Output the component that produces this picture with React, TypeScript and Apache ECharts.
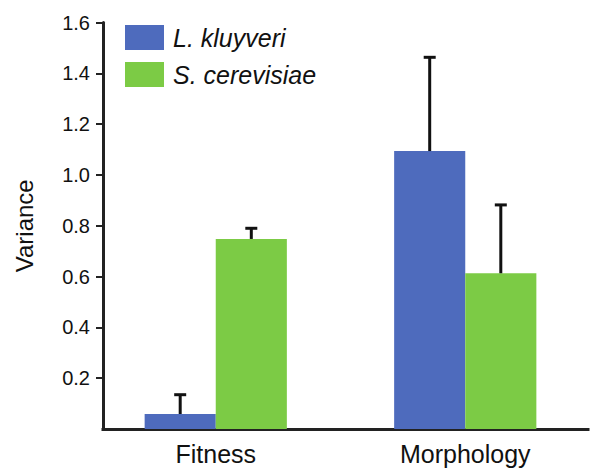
import React, { useEffect, useRef } from "react";
import * as echarts from "echarts";

const categories = ["Fitness", "Morphology"];
const seriesNames = ["L. kluyveri", "S. cerevisiae"];
const kluyveriMean = [0.059, 1.094];
const kluyveriUpper = [0.135, 1.463];
const cerevisiaeMean = [0.748, 0.613];
const cerevisiaeUpper = [0.79, 0.882];
const yTicks = [0.2, 0.4, 0.6, 0.8, 1.0, 1.2, 1.4, 1.6];

const BLUE = "#4E6BBD";
const GREEN = "#7CCB45";
const FONT = "Liberation Sans, Arial, sans-serif";
const CAT_GAP = 0.43;

function errorSeries(means: number[], uppers: number[], side: number) {
  return {
    type: "custom",
    xAxisIndex: 1,
    yAxisIndex: 1,
    z: 5,
    silent: true,
    data: means.map((m, i) => [i, m, uppers[i]]),
    encode: { x: 0, y: [1, 2] },
    renderItem: (params: any, api: any) => {
      const cat = api.value(0);
      const base = api.coord([cat, api.value(1)]);
      const top = api.coord([cat, api.value(2)]);
      const bandW = api.size([1, 0])[0];
      const barW = (bandW * (1 - CAT_GAP)) / 2;
      const x = base[0] + (side * barW) / 2;
      const style = { stroke: "#111", lineWidth: 3 };
      return {
        type: "group",
        children: [
          { type: "line", shape: { x1: x, y1: base[1], x2: x, y2: top[1] }, style },
          { type: "line", shape: { x1: x - 6, y1: top[1], x2: x + 6, y2: top[1] }, style },
        ],
      };
    },
  };
}

export default function App() {
  const ref = useRef<HTMLDivElement>(null);
  useEffect(() => {
    if (!ref.current) return;
    const chart = echarts.init(ref.current, undefined, { renderer: "svg" });
    const top = 22.5;
    const bottom = 41;
    chart.setOption({
      animation: false,
      backgroundColor: "#fff",
      textStyle: { fontFamily: FONT },
      legend: {
        data: seriesNames,
        orient: "vertical",
        left: 125,
        top: 25,
        itemWidth: 39,
        itemHeight: 25,
        itemGap: 12,
        icon: "rect",
        padding: 0,
        textStyle: { fontSize: 25, fontStyle: "italic", color: "#111", fontFamily: FONT, padding: [0, 0, 0, 4] },
      },
      grid: [
        { left: 103, right: 2, top, bottom },
        { left: 91, width: 506, top, bottom },
      ],
      xAxis: [
        {
          gridIndex: 0,
          type: "value",
          min: 0,
          max: 1,
          axisLine: { show: true, lineStyle: { color: "#222", width: 3, cap: "square" } },
          axisTick: { show: false },
          axisLabel: { show: false },
          splitLine: { show: false },
        },
        {
          gridIndex: 1,
          type: "category",
          data: categories,
          axisLine: { show: false },
          axisTick: { show: false },
          axisLabel: { fontSize: 25, color: "#111", margin: 12, fontFamily: FONT },
        },
      ],
      yAxis: [
        {
          gridIndex: 0,
          type: "value",
          min: 0,
          max: 1.6,
          name: "Variance",
          nameLocation: "middle",
          nameGap: 67,
          nameTextStyle: { fontSize: 24, color: "#111", fontFamily: FONT },
          axisLine: { show: true, lineStyle: { color: "#222", width: 3 } },
          axisTick: { show: true, length: 7, customValues: yTicks, lineStyle: { color: "#222", width: 2 } },
          axisLabel: {
            customValues: yTicks,
            fontSize: 20,
            color: "#111",
            margin: 13,
            fontFamily: FONT,
            formatter: (v: number) => v.toFixed(1),
          },
          splitLine: { show: false },
        },
        {
          gridIndex: 1,
          type: "value",
          min: 0,
          max: 1.6,
          show: false,
          splitLine: { show: false },
        },
      ],
      series: [
        {
          name: seriesNames[0],
          type: "bar",
          xAxisIndex: 1,
          yAxisIndex: 1,
          data: kluyveriMean,
          itemStyle: { color: BLUE },
          barGap: "0%",
          barCategoryGap: CAT_GAP * 100 + "%",
        },
        {
          name: seriesNames[1],
          type: "bar",
          xAxisIndex: 1,
          yAxisIndex: 1,
          data: cerevisiaeMean,
          itemStyle: { color: GREEN },
          barGap: "0%",
          barCategoryGap: CAT_GAP * 100 + "%",
        },
        errorSeries(kluyveriMean, kluyveriUpper, -1),
        errorSeries(cerevisiaeMean, cerevisiaeUpper, 1),
      ],
    });
    return () => chart.dispose();
  }, []);
  return <div ref={ref} style={{ width: 590, height: 470, position: "absolute", left: 0, top: 0 }} />;
}
